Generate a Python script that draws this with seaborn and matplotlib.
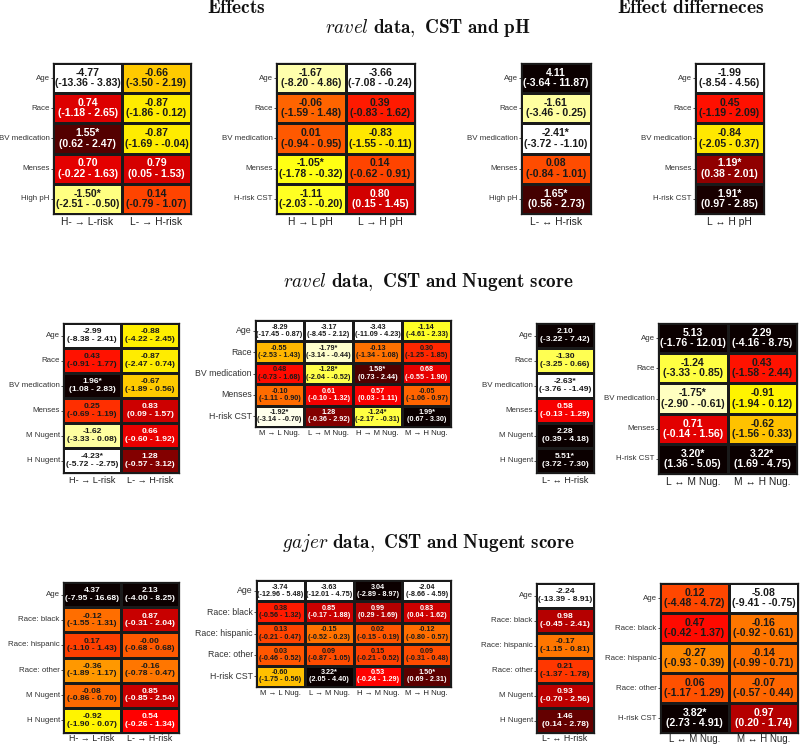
import numpy as np
import pandas as pd
import matplotlib
matplotlib.use('Agg')
import matplotlib.pyplot as plt
import seaborn as sns

sns.set_theme(style='white')
plt.rcParams['font.family'] = ['Liberation Sans', 'DejaVu Sans']
plt.rcParams['mathtext.fontset'] = 'cm'

# ---------------- labels ----------------
rows_ph = ['Age', 'Race', 'BV medication', 'Menses', 'High pH']
rows_ph_b = ['Age', 'Race', 'BV medication', 'Menses', 'H-risk CST']
rows_nug = ['Age', 'Race', 'BV medication', 'Menses', 'M Nugent', 'H Nugent']
rows_nug_b = ['Age', 'Race', 'BV medication', 'Menses', 'H-risk CST']
rows_gaj = ['Age', 'Race: black', 'Race: hispanic', 'Race: other', 'M Nugent', 'H Nugent']
rows_gaj_b = ['Age', 'Race: black', 'Race: hispanic', 'Race: other', 'H-risk CST']

cols_risk = ['H- \u2192 L-risk', 'L- \u2192 H-risk']
cols_ph = ['H \u2192 L pH', 'L \u2192 H pH']
cols_riskdiff = ['L- \u2194 H-risk']
cols_phdiff = ['L \u2194 H pH']
cols_nug = ['M \u2192 L Nug.', 'L \u2192 M Nug.', 'H \u2192 M Nug.', 'M \u2192 H Nug.']
cols_nugdiff = ['L \u2194 M Nug.', 'M \u2194 H Nug.']

# ---------------- ravel, CST and pH ----------------
A1_est = [[-4.77, -0.66], [0.74, -0.87], [1.55, -0.87], [0.70, 0.79], [-1.50, 0.14]]
A1_lo = [[-13.36, -3.50], [-1.18, -1.86], [0.62, -1.69], [-0.22, 0.05], [-2.51, -0.79]]
A1_hi = [[3.83, 2.19], [2.65, 0.12], [2.47, -0.04], [1.63, 1.53], [-0.50, 1.07]]
A1_sig = [[0, 0], [0, 0], [1, 0], [0, 0], [1, 0]]

B1_est = [[-1.67, -3.66], [-0.06, 0.39], [0.01, -0.83], [-1.05, 0.14], [-1.11, 0.80]]
B1_lo = [[-8.20, -7.08], [-1.59, -0.83], [-0.94, -1.55], [-1.78, -0.62], [-2.03, 0.15]]
B1_hi = [[4.86, -0.24], [1.48, 1.62], [0.95, -0.11], [-0.32, 0.91], [-0.20, 1.45]]
B1_sig = [[0, 0], [0, 0], [0, 0], [1, 0], [0, 0]]

C1_est = [[4.11], [-1.61], [-2.41], [0.08], [1.65]]
C1_lo = [[-3.64], [-3.46], [-3.72], [-0.84], [0.56]]
C1_hi = [[11.87], [0.25], [-1.10], [1.01], [2.73]]
C1_sig = [[0], [0], [1], [0], [1]]

D1_est = [[-1.99], [0.45], [-0.84], [1.19], [1.91]]
D1_lo = [[-8.54], [-1.19], [-2.05], [0.38], [0.97]]
D1_hi = [[4.56], [2.09], [0.37], [2.01], [2.85]]
D1_sig = [[0], [0], [0], [1], [1]]

# ---------------- ravel, CST and Nugent ----------------
A2_est = [[-2.99, -0.88], [0.43, -0.87], [1.96, -0.67], [0.25, 0.83], [-1.62, 0.66], [-4.23, 1.28]]
A2_lo = [[-8.38, -4.22], [-0.91, -2.47], [1.08, -1.89], [-0.69, 0.09], [-3.33, -0.60], [-5.72, -0.57]]
A2_hi = [[2.41, 2.45], [1.77, 0.74], [2.83, 0.56], [1.19, 1.57], [0.08, 1.92], [-2.75, 3.12]]
A2_sig = [[0, 0], [0, 0], [1, 0], [0, 0], [0, 0], [1, 0]]

B2_est = [[-8.29, -3.17, -3.43, -1.14], [-0.55, -1.79, -0.13, 0.30], [0.48, -1.28, 1.58, 0.68],
          [-0.10, 0.61, 0.57, -0.05], [-1.92, 1.28, -1.24, 1.99]]
B2_lo = [[-17.45, -8.45, -11.09, -4.61], [-2.53, -3.14, -1.34, -1.25], [-0.73, -2.04, 0.73, -0.55],
         [-1.11, -0.10, 0.03, -1.06], [-3.14, -0.36, -2.17, 0.67]]
B2_hi = [[0.87, 2.12, 4.23, 2.33], [1.43, -0.44, 1.08, 1.85], [1.68, -0.52, 2.44, 1.90],
         [0.90, 1.32, 1.11, 0.97], [-0.70, 2.92, -0.31, 3.30]]
B2_sig = [[0, 0, 0, 0], [0, 1, 0, 0], [0, 1, 1, 0], [0, 0, 0, 0], [1, 0, 1, 1]]

C2_est = [[2.10], [-1.30], [-2.63], [0.58], [2.28], [5.51]]
C2_lo = [[-3.22], [-3.25], [-3.76], [-0.13], [0.39], [3.72]]
C2_hi = [[7.42], [0.66], [-1.49], [1.29], [4.18], [7.30]]
C2_sig = [[0], [0], [1], [0], [0], [1]]

D2_est = [[5.13, 2.29], [-1.24, 0.43], [-1.75, -0.91], [0.71, -0.62], [3.20, 3.22]]
D2_lo = [[-1.76, -4.16], [-3.33, -1.58], [-2.90, -1.94], [-0.14, -1.56], [1.36, 1.69]]
D2_hi = [[12.01, 8.75], [0.85, 2.44], [-0.61, 0.12], [1.56, 0.33], [5.05, 4.75]]
D2_sig = [[0, 0], [0, 0], [1, 0], [0, 0], [1, 1]]

# ---------------- gajer, CST and Nugent ----------------
A3_est = [[4.37, 2.13], [-0.12, 0.87], [0.17, -0.0], [-0.36, -0.16], [-0.08, 0.85], [-0.92, 0.54]]
A3_lo = [[-7.95, -4.00], [-1.55, -0.31], [-1.10, -0.68], [-1.89, -0.78], [-0.86, -0.85], [-1.90, -0.26]]
A3_hi = [[16.68, 8.25], [1.31, 2.04], [1.43, 0.68], [1.17, 0.47], [0.70, 2.54], [0.07, 1.34]]
A3_sig = [[0, 0], [0, 0], [0, 0], [0, 0], [0, 0], [0, 0]]

B3_est = [[-3.74, -3.63, 3.04, -2.04], [0.38, 0.85, 0.99, 0.83], [0.13, -0.15, 0.02, -0.12],
          [0.03, 0.09, 0.15, 0.09], [-0.60, 3.22, 0.53, 1.50]]
B3_lo = [[-12.96, -12.01, -2.89, -8.66], [-0.56, -0.17, 0.29, 0.04], [-0.21, -0.52, -0.15, -0.80],
         [-0.46, -0.87, -0.21, -0.31], [-1.75, 2.05, -0.24, 0.69]]
B3_hi = [[5.48, 4.75, 8.97, 4.59], [1.32, 1.88, 1.69, 1.62], [0.47, 0.23, 0.19, 0.57],
         [0.52, 1.05, 0.52, 0.48], [0.56, 4.40, 1.29, 2.31]]
B3_sig = [[0, 0, 0, 0], [0, 0, 0, 0], [0, 0, 0, 0], [0, 0, 0, 0], [0, 1, 0, 1]]

C3_est = [[-2.24], [0.98], [-0.17], [0.21], [0.93], [1.46]]
C3_lo = [[-13.39], [-0.45], [-1.15], [-1.37], [-0.70], [0.14]]
C3_hi = [[8.91], [2.41], [0.81], [1.78], [2.56], [2.78]]
C3_sig = [[0], [0], [0], [0], [0], [0]]

D3_est = [[0.12, -5.08], [0.47, -0.16], [-0.27, -0.14], [0.06, -0.07], [3.82, 0.97]]
D3_lo = [[-4.48, -9.41], [-0.42, -0.92], [-0.93, -0.99], [-1.17, -0.57], [2.73, 0.20]]
D3_hi = [[4.72, -0.75], [1.37, 0.61], [0.39, 0.71], [1.29, 0.44], [4.91, 1.74]]
D3_sig = [[0, 0], [0, 0], [0, 0], [0, 0], [1, 0]]

W, H = 800, 745
fig = plt.figure(figsize=(8.0, 7.45), dpi=100)


def rect(x0, y0, x1, y1):
    return [x0 / W, 1 - y1 / H, (x1 - x0) / W, (y1 - y0) / H]


def panel(r, est, lo, hi, sig, rows, cols, fs, yfs, xfs, xpad=2):
    ax = fig.add_axes(r)
    est = np.array(est, dtype=float)
    lo = np.array(lo, dtype=float)
    hi = np.array(hi, dtype=float)
    sig = np.array(sig)
    annot = np.empty(est.shape, dtype=object)
    for i in range(est.shape[0]):
        for j in range(est.shape[1]):
            star = '*' if sig[i, j] else ''
            annot[i, j] = f"{est[i, j]:.2f}{star}\n({lo[i, j]:.2f} - {hi[i, j]:.2f})"
    df = pd.DataFrame(est, index=rows, columns=cols)
    sns.heatmap(df, ax=ax, cmap='hot_r', vmin=-2, vmax=2, cbar=False,
                annot=annot, fmt='',
                annot_kws=dict(fontsize=fs, fontweight='bold', linespacing=1.05),
                linewidths=0.8, linecolor='#1a1a1a')
    for t, v in zip(ax.texts, est.flatten()):
        t.set_color('white' if v > 0.5 else '#1a1a1a')
    ax.set_xlabel('')
    ax.set_ylabel('')
    ax.tick_params(axis='y', labelsize=yfs, length=1.5, width=0.6, left=True, pad=0.8, colors='#333333')
    ax.tick_params(axis='x', labelsize=xfs, length=0, pad=xpad, colors='#222222')
    plt.setp(ax.get_yticklabels(), rotation=0)
    plt.setp(ax.get_xticklabels(), rotation=0)
    for s in ax.spines.values():
        s.set_visible(True)
        s.set_color('#1a1a1a')
        s.set_linewidth(0.9)
    return ax


# Row 1
panel(rect(53, 63, 191, 214), A1_est, A1_lo, A1_hi, A1_sig, rows_ph, cols_risk, 7.6, 5.7, 7.4)
panel(rect(276, 63, 415, 214), B1_est, B1_lo, B1_hi, B1_sig, rows_ph_b, cols_ph, 7.6, 5.7, 7.4)
panel(rect(521, 63, 591, 214), C1_est, C1_lo, C1_hi, C1_sig, rows_ph, cols_riskdiff, 7.6, 5.7, 7.4)
panel(rect(695, 63, 764, 214), D1_est, D1_lo, D1_hi, D1_sig, rows_ph_b, cols_phdiff, 7.6, 5.7, 7.4)

# Row 2
panel(rect(63, 323, 179, 473), A2_est, A2_lo, A2_hi, A2_sig, rows_nug, cols_risk, 6.1, 5.7, 6.6)
panel(rect(255, 320, 451, 427), B2_est, B2_lo, B2_hi, B2_sig, rows_nug_b, cols_nug, 5.2, 6.3, 5.6)
panel(rect(536, 323, 594, 473), C2_est, C2_lo, C2_hi, C2_sig, rows_nug, cols_riskdiff, 6.1, 5.7, 6.6)
panel(rect(658, 323, 797, 474), D2_est, D2_lo, D2_hi, D2_sig, rows_nug_b, cols_nugdiff, 7.6, 5.7, 7.4)

# Row 3
panel(rect(63, 582, 179, 733), A3_est, A3_lo, A3_hi, A3_sig, rows_gaj, cols_risk, 6.1, 5.7, 6.4, xpad=1)
panel(rect(256, 580, 451, 687), B3_est, B3_lo, B3_hi, B3_sig, rows_gaj_b, cols_nug, 5.2, 6.3, 5.6)
panel(rect(536, 583, 594, 733), C3_est, C3_lo, C3_hi, C3_sig, rows_gaj, cols_riskdiff, 6.1, 5.7, 6.4, xpad=1)
panel(rect(660, 583, 798, 733), D3_est, D3_lo, D3_hi, D3_sig, rows_gaj_b, cols_nugdiff, 7.6, 5.7, 7.0, xpad=1)

# Titles
fig.text(236 / W, 1 - 8 / H, r'$\mathbf{Effects}$', ha='center', va='center', fontsize=14, color='#111111')
fig.text(691 / W, 1 - 8 / H, r'$\mathbf{Effect\ differneces}$', ha='center', va='center', fontsize=14, color='#111111')
fig.text(428 / W, 1 - 28 / H, r'$\mathit{ravel}\ \mathbf{data,\ CST\ and\ pH}$', ha='center', va='center', fontsize=13.8, color='#111111')
fig.text(428 / W, 1 - 282 / H, r'$\mathit{ravel}\ \mathbf{data,\ CST\ and\ Nugent\ score}$', ha='center', va='center', fontsize=13.8, color='#111111')
fig.text(428 / W, 1 - 543 / H, r'$\mathit{gajer}\ \mathbf{data,\ CST\ and\ Nugent\ score}$', ha='center', va='center', fontsize=13.8, color='#111111')

fig.savefig('out.png', dpi=100)
